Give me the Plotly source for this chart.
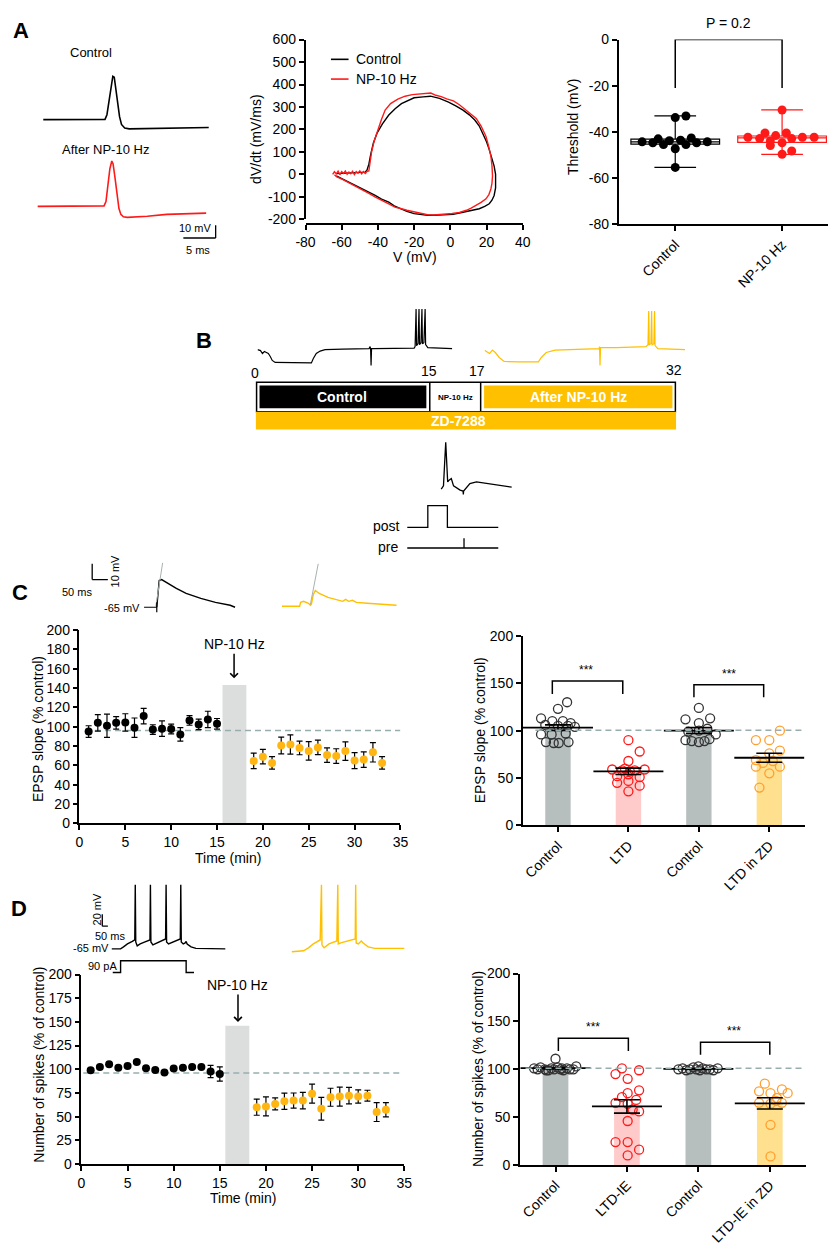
import numpy as np
import plotly.graph_objects as go

W, H = 837, 1254
FONT = "Liberation Sans, Arial, Helvetica, sans-serif"
ORANGE = "#FFB612"
SCH_ORANGE = "#FFC000"
RED = "#FF1A1A"
DASH = "#98AEAE"
BAND = "#DCDEDE"

# ---------------- DATA ----------------
# A left: example action potentials (ms, mV)
ap_ctrl_t = [0, 9.55, 9.85, 10.15, 10.45, 10.76, 10.98, 11.2, 11.5, 11.8, 12.1, 12.6, 13.3, 16.1, 20.6, 25.6]
ap_ctrl_v = [-65, -64.8, -61.2, -51.2, -38.1, -31.2, -31.9, -39.6, -51.9, -62.7, -68.8, -71.5, -72.2, -71.9, -71.5, -71.2]
ap_after_t = [-0.9, 9.4, 9.7, 10.0, 10.3, 10.6, 10.8, 11.1, 11.4, 11.7, 12.0, 12.4, 13.0, 16.1, 19.1, 25.2]
ap_after_v = [-65, -64.6, -61.2, -48.8, -35.8, -29.6, -31.9, -42.7, -56.5, -66.5, -71.2, -73.1, -73.5, -72.7, -71.2, -70.2]

# A middle: phase plots
ctrl_v = [-63, -58, -53, -49, -47, -46, -45, -44, -42.5, -40.5, -37.5, -34, -30.5, -27, -23.5, -20, -15, -11, -6, -1,
          3, 7, 10.5, 13.5, 16, 18, 20, 21.5, 23, 24.2, 25, 25.2, 25, 24.2, 23, 21.5, 19, 16, 12.5, 9, 5, 1.5, -2, -5.5,
          -9, -12.5, -16, -20, -24, -27, -31, -34, -38, -41.5, -45, -48.5, -52, -55.7, -58.5, -61, -63]
ctrl_dvdt = [3, 5, 6, 8, 10, 20, 45, 88, 140, 183, 225, 264, 292, 315, 328, 341, 345, 348, 338, 322,
             305, 286, 265, 242, 215, 183, 145, 110, 75, 37, 0, -36, -60, -94, -115, -131, -143, -153, -160, -167, -172, -178, -180, -182,
             -182, -182, -179, -175, -165, -153, -140, -124, -110, -94, -80, -65, -52, -39, -28, -18, -7]
np_v = [-65, -64, -63, -62, -61, -60, -59, -58, -57, -56, -55, -54, -53, -52, -51, -50, -49, -48, -47, -46, -45,
        -44.5, -43.5, -42, -40, -38, -36, -33, -29, -25, -21, -17, -13, -10.8, -8, -5, -2, 1.7, 5, 8, 11, 14.3, 17, 19.7, 21, 22.4, 23, 23.3,
        23, 22.4, 21.3, 19.7, 17, 14.3, 11.5, 8.9, 5, 1, -2, -5.4, -9, -12.6, -16, -19.8, -24, -27, -30.6, -34, -38, -41.4, -45, -48.6, -52.2, -55.7, -59.3, -62.9, -64]
np_dvdt = [0, 12, 2, 14, -2, 12, 4, 15, 0, 10, 3, 14, -1, 12, 5, 15, 2, 12, 4, 14, 15,
           50, 100, 150, 200, 245, 286, 315, 335, 348, 355, 358, 358, 362, 352, 346, 336, 327, 310, 290, 270, 249, 215, 169, 130, 81, 40, -7,
           -40, -65, -90, -109, -125, -138, -150, -160, -170, -174, -177, -179, -181, -180, -175, -168, -160, -153, -146, -131, -116, -101, -85, -69, -53, -39, -24, -10, -2]

# A right: thresholds (mV)
a_groups = ["Control", "NP-10 Hz"]
thr_ctrl = [-33.8, -33.1, -44.3, -44.7, -43.0, -45.5, -43.8, -47.3, -43.6, -45.5, -42.6, -44.7, -44.3, -55.4]
thr_ctrl_jit = [0.0, 0.1, -0.31, -0.21, -0.16, -0.11, -0.055, 0.0, 0.05, 0.1, 0.15, 0.2, 0.3, 0.0]
thr_np = [-30.5, -42.3, -42.9, -40.5, -43.9, -41.6, -44.7, -40.5, -42.9, -42.3, -42.3, -45.9, -48.3, -49.7]
thr_np_jit = [0.0, -0.32, -0.21, -0.16, -0.11, -0.06, 0.0, 0.04, 0.09, 0.19, 0.3, -0.11, 0.09, 0.0]

# B: example traces (ms, mV)
b_ctrl_t = [0, 12, 20, 28, 36, 44, 52, 60, 72, 148, 220, 228, 240, 256, 276, 348, 456, 460, 462, 464, 466, 476, 640, 644, 648, 650,
            656, 660, 662, 668, 672, 674, 680, 685, 687, 696, 796]
b_ctrl_v = [-65, -66.2, -69.8, -67.4, -68.6, -69.8, -73.4, -78.2, -80.6, -81.2, -81.2, -75.8, -69.8, -66.8, -65, -64.4, -63.8, -61.4,
            -63.8, -84.2, -63.8, -63.8, -63.2, -61.4, -15.8, -60.2, -57.8, -15.8, -59, -56.6, -15.8, -57.8, -56.6, -15.8, -59, -62.6, -63.8]
b_after_t = [0, 20, 32, 44, 60, 80, 140, 220, 232, 252, 288, 380, 468, 470, 472, 474, 540, 660, 668, 671, 673, 680, 683, 685, 692,
             695, 697, 708, 820]
b_after_v = [-65.8, -69.8, -65.6, -68.6, -74.6, -79.4, -80, -80, -74.6, -68.6, -65.6, -64.4, -63.8, -61.4, -84.2, -62.6, -62.6, -61.4,
             -59, -18.2, -59, -57.8, -18.2, -59, -57.8, -18.2, -60.2, -63.8, -65]
b_segments = ["Control", "NP-10 Hz", "After NP-10 Hz"]
b_times = ["0", "15", "17", "32"]
pair_t = [20.35, 21.5, 22.25, 22.65, 23.15, 23.65, 24.5, 25.5, 26.65, 30, 31.5, 31.65, 31.8, 35, 38.35, 56.35]
pair_v = [-64.6, -61.3, -32.3, -17.3, -37.3, -57.3, -55.3, -54, -61.3, -65.6, -66.6, -70, -66.6, -59, -57.3, -62.6]
post_t = [3, 13.5, 13.5, 23.5, 23.5, 49.5]
post_lvl = [26, 26, 48, 48, 26, 26]
pre_t = [3, 32, 32, 32, 49.5]
pre_lvl = [5, 5, 15, 5, 5]

# C traces (ms, mV)
c_ctrl_tr_t = [0, 3.1, 7.8, 15.6, 31.25, 62.5, 93.75, 140.6, 187.5, 234.4, 250]
c_ctrl_tr_v = [-65, -57.5, -48.1, -47.5, -49.4, -53.1, -56.25, -59.4, -61.9, -63.75, -65]
c_ltd_tr_t = [-93.75, -37.5, -34.4, -25, -9.4, -3.1, 0, 6.25, 12.5, 25, 53.1, 84.4, 100, 109.4, 118.75, 131.25, 143.75, 178, 225, 271.9]
c_ltd_tr_v = [-64.4, -64.4, -61.9, -61.25, -62.5, -63.75, -63.1, -56.9, -54.4, -56.25, -58.75, -60.6, -61.25, -60, -61.25, -60.6,
              -61.9, -62.5, -63.1, -63.75]
c_fit_ctrl_t = [-3.1, 18.75]
c_fit_ctrl_v = [-64.4, -36.9]
c_fit_ltd_t = [-3.1, 21.9]
c_fit_ltd_v = [-63.1, -37.5]

# C left: EPSP slope time course
c_pre_t = list(range(1, 16))
c_pre_y = [95, 104, 101, 104, 104.4, 99, 111, 97, 98, 97.6, 92, 106.5, 102.4, 107.5, 103]
c_pre_e = [6, 8.5, 12, 6.5, 9, 10, 8, 5, 8, 5, 7, 5, 5.5, 8.5, 5.5]
c_post_t = list(range(19, 34))
c_post_y = [64.6, 69, 62.6, 80.6, 81.6, 78, 75, 78.6, 70.7, 69.7, 74.8, 65, 66, 73.5, 62.6]
c_post_e = [8, 7.5, 6.5, 8.7, 10, 7, 9.5, 7.5, 7.5, 7.5, 9.5, 8.3, 8, 10, 6.5]

# C right: EPSP slope per cell
c_groups = ["Control", "LTD", "Control", "LTD in ZD"]
c_ctrl = [130, 123, 113, 110, 110, 106, 105, 105, 104, 96, 96, 97, 88, 87, 87, 88, 108]
c_ctrl_jit = [0.13, 0.0, -0.24, -0.08, 0.07, -0.18, 0.0, 0.14, 0.24, -0.24, -0.09, 0.11, -0.17, -0.06, 0.01, 0.15, 0.18]
c_ltd = [90, 78, 68, 59, 58, 58, 57, 59, 52, 54, 51, 45, 47, 42, 36, 60]
c_ltd_jit = [0, 0.16, 0, -0.23, -0.09, 0.09, 0.02, 0.23, -0.16, 0.0, 0.16, -0.16, 0.0, 0.16, 0.0, -0.05]
c_ctrl2 = [124, 112, 108, 113, 99, 100, 102, 96, 90, 89, 88, 89, 91]
c_ctrl2_jit = [0, -0.19, 0, 0.16, -0.15, 0, 0.12, 0.24, -0.19, -0.1, 0, 0.08, 0.15]
c_ltdzd = [100, 90, 90, 79, 76, 69, 62, 62, 66, 55, 40, 68]
c_ltdzd_jit = [0.15, -0.19, 0, 0.15, 0, -0.19, 0.15, -0.19, -0.09, 0, -0.14, 0.05]

# D traces (ms, mV / pA)
d_ctrl_tr_t = [-75, 0, 25, 58.3, 100, 120.8, 125, 129, 141.7, 166.7, 208.3, 250, 254, 258, 275, 308.3, 350, 383.3, 387.5, 391.7,
               408.3, 458.3, 508.3, 512.5, 516.7, 533.3, 550, 558.3, 566.7, 600, 641.7, 891.7]
d_ctrl_tr_v = [-65, -65, -61.7, -56.7, -52.5, -50, 43.3, -53.3, -60, -56.7, -53.3, -50, 43.3, -53.3, -58.3, -55, -51.7, -48.3, 43.3,
               -53.3, -56.7, -52.5, -48.3, 43.3, -53.3, -56.7, -55, -52.5, -56.7, -61.7, -64.2, -65]
d_ltd_tr_t = [0, 100, 141.7, 183.3, 241.7, 252.5, 256.7, 275, 316.7, 383.3, 391.7, 395.8, 416.7, 475, 540, 544, 548.3, 566.7, 591.7,
              608.3, 650, 708.3, 958.3]
d_ltd_tr_v = [-70, -68.3, -63.3, -56.7, -50, 43.3, -58.3, -63.3, -56.7, -51.7, 43.3, -56.7, -55, -51.7, -48.3, 43.3, -55, -56.7,
              -51.7, -55, -61.7, -64.2, -64.2]
step_t = [-66.7, 0, 0, 558.3, 558.3, 625]
step_pA = [0, 0, 90, 90, 0, 0]

# D left: number of spikes time course
d_pre_t = list(range(1, 16))
d_pre_y = [99, 102.4, 105.2, 101.7, 103.5, 107.6, 101, 99.3, 96.5, 100.7, 101.7, 102.4, 102.4, 97.6, 95.1]
d_pre_e = [1.5, 1.5, 1.5, 1.5, 1.5, 1.5, 1.5, 1.5, 1.5, 1.5, 1.5, 1.5, 1.5, 6.5, 7.5]
d_post_t = list(range(19, 34))
d_post_y = [60, 60.8, 63.5, 66.3, 67, 67, 74.3, 58.3, 70.5, 71.2, 72.2, 71.2, 72.2, 54.9, 57.3]
d_post_e = [8.5, 10, 6.3, 8.5, 8, 8.7, 10, 12, 9.5, 10, 8.7, 7, 5.7, 10, 7.5]

# D right: spikes per cell
d_groups = ["Control", "LTD-IE", "Control", "LTD-IE in ZD"]
d_ctrl = [101, 100, 102, 100, 99, 101, 100, 102, 100, 99, 101, 100, 100, 103, 99, 101, 111]
d_ctrl_jit = [-0.3, -0.25, -0.21, -0.15, -0.1, -0.06, -0.02, 0.03, 0.07, 0.11, 0.16, 0.2, 0.25, 0.29, -0.13, 0.09, 0.0]
d_ltd = [101, 99, 95, 90, 78, 75, 71, 65, 64, 58, 56, 46, 24, 24, 16, 10, 68]
d_ltd_jit = [-0.07, 0.17, -0.16, 0.01, 0.17, 0.01, -0.07, -0.16, 0.01, 0.08, 0.17, 0.01, -0.16, 0.01, 0.17, 0.01, 0.13]
d_ctrl2 = [100, 101, 99, 100, 102, 100, 99, 101, 100, 103, 100, 99, 101]
d_ctrl2_jit = [-0.28, -0.22, -0.17, -0.12, -0.07, -0.03, 0.02, 0.06, 0.11, 0.0, 0.16, 0.21, 0.27]
d_ltdzd = [85, 77, 79, 75, 75, 70, 65, 64, 65, 67, 42, 9]
d_ltdzd_jit = [-0.07, -0.15, 0.17, 0.25, 0.01, 0.1, -0.15, 0.01, 0.17, 0.09, 0.01, 0.01]


# ---------------- HELPERS ----------------
def xd(a, b):
    return [a / W, b / W]


def yd(top, bottom):
    return [1 - bottom / H, 1 - top / H]


def px(x):
    return x / W


def py(y):
    return 1 - y / H


traces, shapes, ann = [], [], []


def text(x, y, s, size=14, angle=0, xanchor="center", yanchor="middle", color="black", bold=False):
    ann.append(dict(x=px(x), y=py(y), xref="paper", yref="paper", text=f"<b>{s}</b>" if bold else s,
                    showarrow=False, font=dict(size=size, color=color, family=FONT), textangle=angle,
                    xanchor=xanchor, yanchor=yanchor))


def pline(x0, y0, x1, y1, color="black", width=1.5):
    shapes.append(dict(type="line", xref="paper", yref="paper", x0=px(x0), y0=py(y0), x1=px(x1), y1=py(y1),
                       line=dict(color=color, width=width)))


def prect(x0, y0, x1, y1, fill, lw=0, lc="black"):
    shapes.append(dict(type="rect", xref="paper", yref="paper", x0=px(x0), y0=py(y1), x1=px(x1), y1=py(y0),
                       fillcolor=fill, line=dict(width=lw, color=lc)))


def aline(xr, yr, x0, y0, x1, y1, color="black", width=1.5, dash=None, layer="above"):
    ln = dict(color=color, width=width)
    if dash:
        ln["dash"] = dash
    shapes.append(dict(type="line", xref=xr, yref=yr, x0=x0, y0=y0, x1=x1, y1=y1, line=ln, layer=layer))


def line_trace(x, y, xa, ya, color="black", width=1.5):
    traces.append(go.Scatter(x=x, y=y, mode="lines", line=dict(color=color, width=width),
                             xaxis=xa, yaxis=ya, showlegend=False, hoverinfo="skip"))


hidden = dict(visible=False, fixedrange=True)


def ax_style(**kw):
    d = dict(showline=True, linecolor="black", linewidth=1.5, ticks="outside", ticklen=5, tickwidth=1.5,
             tickcolor="black", showgrid=False, zeroline=False, fixedrange=True,
             tickfont=dict(size=14, color="black", family=FONT))
    d.update(kw)
    return d


axes = {}

# ---------------- PANEL A ----------------
axes["xaxis"] = dict(hidden, domain=xd(28, 215), range=[-0.91, 27.4], anchor="y")
axes["yaxis"] = dict(hidden, domain=yd(60, 135), range=[-81.9, -24.2], anchor="x")
axes["yaxis2"] = dict(hidden, domain=yd(140, 250), range=[-102.7, -18.1], anchor="x")
line_trace(ap_ctrl_t, ap_ctrl_v, "x", "y", "black", 1.6)
line_trace(ap_after_t, ap_after_v, "x", "y2", RED, 1.6)
aline("x", "y2", 26.67, -79.6, 26.67, -89.6, width=1.3)
aline("x", "y2", 21.67, -89.6, 26.67, -89.6, width=1.3)
text(83, 45, "Control", 13)
text(98, 143, "After NP-10 Hz", 13)
text(189, 223, "10 mV", 11)
text(192, 245, "5 ms", 11)
text(11, 23, "A", 22, bold=True)

# phase plot
axes["xaxis3"] = ax_style(domain=xd(302, 524), range=[-80, 40], anchor="free", position=py(219),
                          tickvals=[-80, -60, -40, -20, 0, 20, 40],
                          ticktext=["-80", "-60", "-40", "-20", "0", "20", "40"])
axes["yaxis3"] = ax_style(domain=yd(32, 214), range=[-200, 600], anchor="x3",
                          tickvals=[-200, -100, 0, 100, 200, 300, 400, 500, 600],
                          ticktext=["-200", "-100", "0", "100", "200", "300", "400", "500", "600"])
line_trace(ctrl_v, ctrl_dvdt, "x3", "y3", "black", 1.4)
line_trace(np_v, np_dvdt, "x3", "y3", RED, 1.4)
pline(328, 52, 346, 52, "black", 1.6)
pline(328, 72, 346, 72, RED, 1.6)
text(352, 52, "Control", 14, xanchor="left")
text(352, 72, "NP-10 Hz", 14, xanchor="left")
text(252, 133, "dV/dt (mV/ms)", 14, angle=-90)
text(414, 252, "V (mV)", 14)

# threshold box plot
axes["xaxis4"] = ax_style(domain=xd(622, 836), range=[-0.53, 1.43], anchor="y4", tickvals=[0, 1],
                          ticktext=a_groups, tickangle=-45)
axes["yaxis4"] = ax_style(domain=yd(32, 219), range=[-80, 0], anchor="x4", tickvals=[-80, -60, -40, -20, 0],
                          ticktext=["-80", "-60", "-40", "-20", "0"])
for i, (vals, jit, col) in enumerate([(thr_ctrl, thr_ctrl_jit, "black"), (thr_np, thr_np_jit, RED)]):
    v = np.array(vals)
    traces.append(go.Box(x=[i], q1=[np.percentile(v, 25)], median=[np.median(v)], q3=[np.percentile(v, 75)],
                         lowerfence=[v.min()], upperfence=[v.max()], width=0.83, whiskerwidth=0.47,
                         line=dict(color=col, width=1.2), fillcolor="rgba(0,0,0,0)", boxpoints=False,
                         xaxis="x4", yaxis="y4", showlegend=False, hoverinfo="skip"))
    traces.append(go.Scatter(x=[i + j for j in jit], y=vals, mode="markers",
                             marker=dict(color=col, size=9), xaxis="x4", yaxis="y4", showlegend=False))
shapes.append(dict(type="path", xref="x4", yref="y4", path="M 0,-21 L 0,0 L 1,0 L 1,-21",
                   line=dict(color="black", width=1.5)))
ann.append(dict(x=0.5, y=0, xref="x4", yref="y4", text="P = 0.2", showarrow=False, yanchor="bottom", yshift=7,
                font=dict(size=14, color="black", family=FONT)))
text(576, 121, "Threshold (mV)", 14, angle=-90)

# ---------------- PANEL B ----------------
axes["xaxis5"] = dict(hidden, domain=xd(253, 452), range=[0, 796], anchor="y5")
axes["xaxis6"] = dict(hidden, domain=xd(485, 690), range=[0, 820], anchor="y5")
axes["yaxis5"] = dict(hidden, domain=yd(300, 365), range=[-87.8, -9.8], anchor="x5")
line_trace(b_ctrl_t, b_ctrl_v, "x5", "y5", "black", 1.2)
line_trace(b_after_t, b_after_v, "x6", "y5", SCH_ORANGE, 1.2)
text(198, 337, "B", 22, bold=True)
# protocol bar
prect(252, 379, 680, 409, "white", lw=1.5)
pline(429, 379, 429, 409)
pline(481, 379, 481, 409)
prect(255, 382.5, 425.5, 405.5, "black")
prect(484.5, 382.5, 677, 405.5, SCH_ORANGE)
prect(251.3, 409, 680.7, 427, SCH_ORANGE)
text(339, 394, b_segments[0], 14, color="white", bold=True)
text(455, 394.5, b_segments[1], 8, bold=True)
text(581, 394, b_segments[2], 14, color="white", bold=True)
text(458, 418, "ZD-7288", 14, color="white", bold=True)
for xx, yy, s in zip([250, 428, 477, 679], [370, 368, 368, 367], b_times):
    text(xx, yy, s, 14)
# pairing protocol
axes["xaxis7"] = dict(hidden, domain=xd(400, 520), range=[0, 60], anchor="y7")
axes["yaxis7"] = dict(hidden, domain=yd(430, 500), range=[-77.3, -7.3], anchor="x7")
axes["yaxis8"] = dict(hidden, domain=yd(500, 552), range=[0, 52], anchor="x7")
line_trace(pair_t, pair_v, "x7", "y7", "black", 1.3)
line_trace(post_t, post_lvl, "x7", "y8", "black", 1.3)
line_trace(pre_t, pre_lvl, "x7", "y8", "black", 1.3)
text(385, 525, "post", 14)
text(386, 546, "pre", 14)

# ---------------- PANEL C ----------------
axes["xaxis9"] = dict(hidden, domain=xd(60, 240), range=[-281.25, 281.25], anchor="y9")
axes["xaxis10"] = dict(hidden, domain=xd(270, 400), range=[-118.75, 287.5], anchor="y9")
axes["yaxis9"] = dict(hidden, domain=yd(555, 615), range=[-70, -32.5], anchor="x9")
line_trace(c_ctrl_tr_t, c_ctrl_tr_v, "x9", "y9", "black", 1.4)
line_trace(c_fit_ctrl_t, c_fit_ctrl_v, "x9", "y9", "#A9B0B0", 1)
line_trace(c_ltd_tr_t, c_ltd_tr_v, "x10", "y9", SCH_ORANGE, 1.4)
line_trace(c_fit_ltd_t, c_fit_ltd_v, "x10", "y9", "#A9B0B0", 1)
aline("x9", "y9", -206.25, -37.5, -206.25, -47.5, width=1.3)
aline("x9", "y9", -206.25, -47.5, -156.25, -47.5, width=1.3)
aline("x9", "y9", -40.6, -65, 0, -65, width=1.2)
aline("x9", "y9", 0, -61.9, 0, -68.1, width=1.2)
text(107, 571, "10 mV", 11, angle=-90)
text(68, 592, "50 ms", 11)
text(135, 608, "-65 mV", 11, xanchor="right")
text(10, 592, "C", 22, bold=True)

# C left time course
axes["xaxis11"] = ax_style(domain=xd(71, 399), range=[0, 35], dtick=5, anchor="y11")
axes["yaxis11"] = ax_style(domain=yd(630, 826), range=[0, 200], dtick=20, anchor="x11")
shapes.append(dict(type="rect", xref="x11", yref="y11", x0=15.6, x1=18.2, y0=0, y1=143, fillcolor=BAND,
                   line=dict(width=0), layer="below"))
aline("x11", "y11", 0.6, 96, 35, 96, DASH, 1.5, "6px,4px", "below")
traces.append(go.Scatter(x=c_pre_t, y=c_pre_y, mode="markers", marker=dict(color="black", size=8),
                         error_y=dict(type="data", array=c_pre_e, color="black", thickness=1.2, width=3),
                         xaxis="x11", yaxis="y11", showlegend=False))
traces.append(go.Scatter(x=c_post_t, y=c_post_y, mode="markers", marker=dict(color=ORANGE, size=8),
                         error_y=dict(type="data", array=c_post_e, color="black", thickness=1.2, width=3),
                         xaxis="x11", yaxis="y11", showlegend=False))
ann.append(dict(x=16.86, y=150, xref="x11", yref="y11", text="NP-10 Hz", showarrow=True, arrowhead=4,
                arrowsize=1, arrowwidth=1.5, arrowcolor="black", ax=0, ay=-34,
                font=dict(size=14, color="black", family=FONT)))
text(28, 730, "EPSP slope (% control)", 14, angle=-90)
text(223, 861, "Time (min)", 14)


def scatter_bars(xa, ya, groups, colors, barcols):
    means = [float(np.mean(g[0])) for g in groups]
    traces.append(go.Bar(x=[0, 1, 2, 3], y=means, width=0.36, marker=dict(color=barcols, line=dict(width=0)),
                         xaxis=xa, yaxis=ya, showlegend=False, hoverinfo="skip"))
    for i, ((vals, jit), col) in enumerate(zip(groups, colors)):
        traces.append(go.Scatter(x=[i + j for j in jit], y=vals, mode="markers",
                                 marker=dict(symbol="circle-open", size=9, color=col, line=dict(width=1.3, color=col)),
                                 xaxis=xa, yaxis=ya, showlegend=False))
    for i, (vals, jit) in enumerate(groups):
        v = np.array(vals, dtype=float)
        sem = v.std(ddof=1) / np.sqrt(len(v))
        traces.append(go.Scatter(x=[i], y=[v.mean()], mode="markers",
                                 marker=dict(symbol="line-ew-open", size=50, color="black",
                                             line=dict(width=1.8, color="black")),
                                 error_y=dict(type="data", array=[sem], color="black", thickness=1.6, width=13),
                                 xaxis=xa, yaxis=ya, showlegend=False))


# C right bar chart
axes["xaxis12"] = ax_style(domain=xd(524, 812), range=[-0.5, 3.5], anchor="y12", tickvals=[0, 1, 2, 3],
                           ticktext=c_groups, tickangle=-45)
axes["yaxis12"] = ax_style(domain=yd(636, 828), range=[0, 200], dtick=50, anchor="x12")
aline("x12", "y12", -0.32, 100.5, 3.5, 100.5, DASH, 1.5, "6px,4px", "above")
scatter_bars("x12", "y12",
             [(c_ctrl, c_ctrl_jit), (c_ltd, c_ltd_jit), (c_ctrl2, c_ctrl2_jit), (c_ltdzd, c_ltdzd_jit)],
             ["#333333", RED, "#333333", "#FF9F2E"], ["#B6BEBE", "#FFCACA", "#B6BEBE", "#FFE08E"])
shapes.append(dict(type="path", xref="x12", yref="y12", path="M -0.08,138.6 L -0.08,152.5 L 0.92,152.5 L 0.92,138.6",
                   line=dict(color="black", width=1.5)))
shapes.append(dict(type="path", xref="x12", yref="y12", path="M 1.93,135.2 L 1.93,148.4 L 2.92,148.4 L 2.92,135.2",
                   line=dict(color="black", width=1.5)))
ann.append(dict(x=0.4, y=152.5, xref="x12", yref="y12", text="***", showarrow=False, yanchor="bottom", yshift=2,
                font=dict(size=12, color="black", family=FONT)))
ann.append(dict(x=2.43, y=148.4, xref="x12", yref="y12", text="***", showarrow=False, yanchor="bottom", yshift=2,
                font=dict(size=12, color="black", family=FONT)))
text(480, 732, "EPSP slope (% control)", 14, angle=-90)

# ---------------- PANEL D ----------------
axes["xaxis13"] = dict(hidden, domain=xd(60, 225), range=[-441.7, 933], anchor="y13")
axes["xaxis14"] = dict(hidden, domain=xd(280, 410), range=[-66.7, 1016.7], anchor="y13")
axes["yaxis13"] = dict(hidden, domain=yd(880, 985), range=[-118.3, 56.7], anchor="x13")
axes["yaxis14"] = dict(hidden, domain=yd(958, 982), range=[-37.5, 142.5], anchor="x13")
line_trace(d_ctrl_tr_t, d_ctrl_tr_v, "x13", "y13", "black", 1.4)
line_trace(d_ltd_tr_t, d_ltd_tr_v, "x14", "y13", SCH_ORANGE, 1.4)
line_trace(step_t, step_pA, "x13", "y14", "black", 1.4)
aline("x13", "y13", -155.8, -6.67, -155.8, -26.7, width=1.3)
aline("x13", "y13", -155.8, -26.7, -108.3, -26.7, width=1.3)
text(89, 913, "20 mV", 11, angle=-90)
text(102, 940, "50 ms", 11)
text(103, 952, "-65 mV", 11, xanchor="right")
text(95, 970, "90 pA", 11)
text(9, 912, "D", 22, bold=True)

axes["xaxis15"] = ax_style(domain=xd(73, 403), range=[0, 35], dtick=5, anchor="y15")
axes["yaxis15"] = ax_style(domain=yd(979, 1171), range=[0, 200], dtick=25, anchor="x15")
shapes.append(dict(type="rect", xref="x15", yref="y15", x0=15.6, x1=18.2, y0=0, y1=146, fillcolor=BAND,
                   line=dict(width=0), layer="below"))
aline("x15", "y15", 0.2, 96, 34.6, 96, DASH, 1.5, "6px,4px", "below")
traces.append(go.Scatter(x=d_pre_t, y=d_pre_y, mode="markers", marker=dict(color="black", size=8),
                         error_y=dict(type="data", array=d_pre_e, color="black", thickness=1.2, width=3),
                         xaxis="x15", yaxis="y15", showlegend=False))
traces.append(go.Scatter(x=d_post_t, y=d_post_y, mode="markers", marker=dict(color=ORANGE, size=8),
                         error_y=dict(type="data", array=d_post_e, color="black", thickness=1.2, width=3),
                         xaxis="x15", yaxis="y15", showlegend=False))
ann.append(dict(x=16.97, y=150, xref="x15", yref="y15", text="NP-10 Hz", showarrow=True, arrowhead=4,
                arrowsize=1, arrowwidth=1.5, arrowcolor="black", ax=0, ay=-37,
                font=dict(size=14, color="black", family=FONT)))
text(30, 1070, "Number of spikes (% of control)", 14, angle=-90)
text(238, 1205, "Time (min)", 14)

axes["xaxis16"] = ax_style(domain=xd(521, 813), range=[-0.5, 3.5], anchor="y16", tickvals=[0, 1, 2, 3],
                           ticktext=d_groups, tickangle=-45)
axes["yaxis16"] = ax_style(domain=yd(978, 1172), range=[0, 200], dtick=50, anchor="x16")
aline("x16", "y16", -0.42, 101, 3.5, 101, DASH, 1.5, "6px,4px", "above")
scatter_bars("x16", "y16",
             [(d_ctrl, d_ctrl_jit), (d_ltd, d_ltd_jit), (d_ctrl2, d_ctrl2_jit), (d_ltdzd, d_ltdzd_jit)],
             ["#333333", RED, "#333333", "#FF9F2E"], ["#B6BEBE", "#FFCACA", "#B6BEBE", "#FFE08E"])
shapes.append(dict(type="path", xref="x16", yref="y16", path="M 0.04,119 L 0.04,132.3 L 1.02,132.3 L 1.02,119",
                   line=dict(color="black", width=1.5)))
shapes.append(dict(type="path", xref="x16", yref="y16", path="M 2.03,115.3 L 2.03,128.2 L 3.0,128.2 L 3.0,115.3",
                   line=dict(color="black", width=1.5)))
ann.append(dict(x=0.53, y=132.3, xref="x16", yref="y16", text="***", showarrow=False, yanchor="bottom", yshift=2,
                font=dict(size=12, color="black", family=FONT)))
ann.append(dict(x=2.5, y=128.2, xref="x16", yref="y16", text="***", showarrow=False, yanchor="bottom", yshift=2,
                font=dict(size=12, color="black", family=FONT)))
text(479, 1075, "Number of spikes (% of control)", 14, angle=-90)

# ---------------- FIGURE ----------------
fig = go.Figure(data=traces)
fig.update_layout(width=W, height=H, autosize=False, margin=dict(l=0, r=0, t=0, b=0, pad=0),
                  paper_bgcolor="white", plot_bgcolor="rgba(0,0,0,0)", showlegend=False,
                  font=dict(family=FONT, color="black", size=14), shapes=shapes, annotations=ann,
                  barmode="overlay", **axes)
fig.write_html("out.html", config={"displayModeBar": False},
               post_script="document.body.style.margin='0px';")
